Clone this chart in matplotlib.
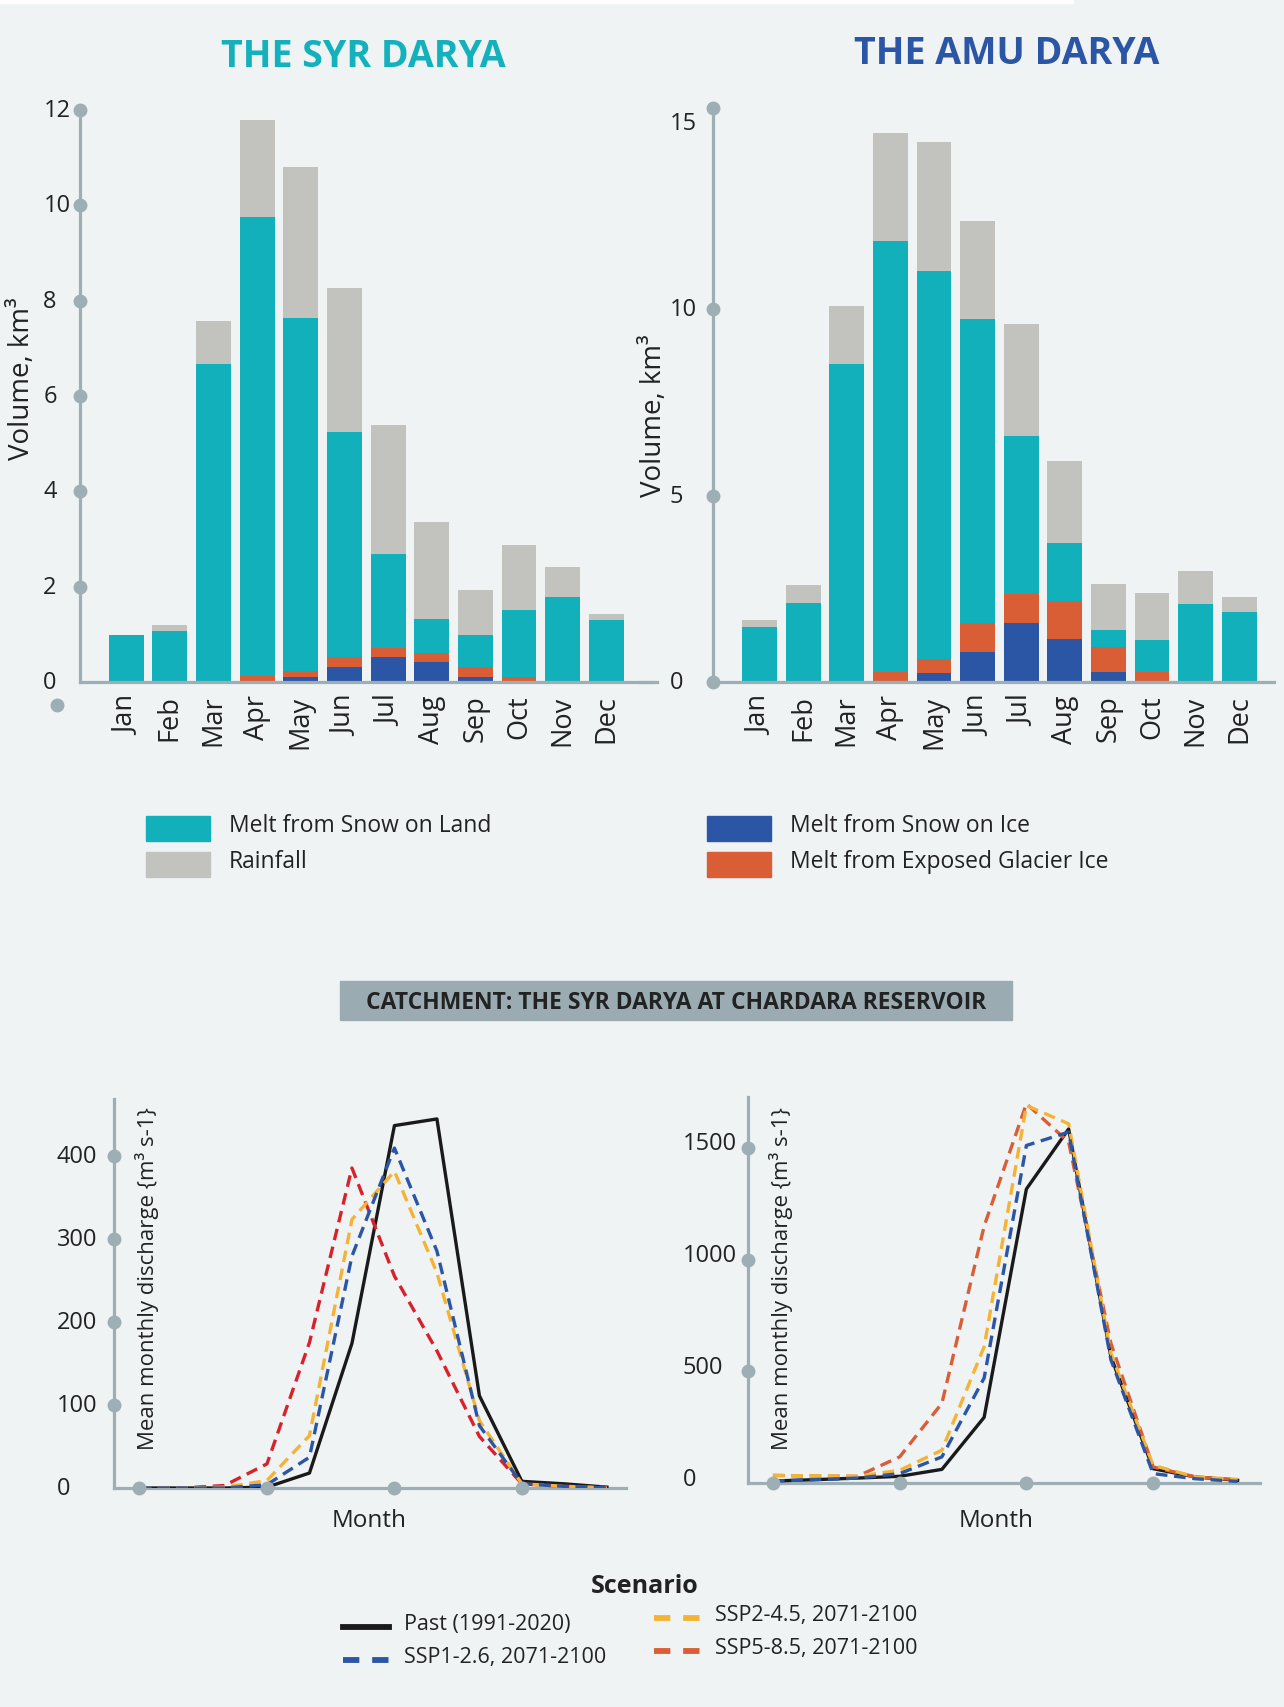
import numpy as np
import matplotlib
matplotlib.use("Agg")
import matplotlib.pyplot as plt
from matplotlib.patches import Rectangle
from matplotlib.lines import Line2D

plt.rcParams['font.family'] = ['Open Sans', 'DejaVu Sans']

# ---- data -------------------------------------------------------------
months = ['Jan', 'Feb', 'Mar', 'Apr', 'May', 'Jun',
          'Jul', 'Aug', 'Sep', 'Oct', 'Nov', 'Dec']

# Syr Darya, km3 per component (stacked bottom -> top)
syr_snow_ice = [0, 0, 0, 0, 0.10, 0.31, 0.52, 0.41, 0.10, 0, 0, 0]
syr_glacier = [0, 0, 0, 0.13, 0.13, 0.21, 0.20, 0.20, 0.21, 0.10, 0, 0]
syr_snow_land = [0.99, 1.07, 6.68, 9.63, 7.40, 4.72, 1.97, 0.71, 0.68, 1.41, 1.78, 1.30]
syr_rain = [0, 0.13, 0.90, 2.04, 3.17, 3.02, 2.70, 2.03, 0.94, 1.37, 0.64, 0.13]

# Amu Darya
amu_snow_ice = [0, 0, 0, 0, 0.23, 0.80, 1.58, 1.15, 0.26, 0, 0, 0]
amu_glacier = [0, 0, 0, 0.26, 0.38, 0.77, 0.79, 1.03, 0.69, 0.26, 0, 0]
amu_snow_land = [1.48, 2.12, 8.52, 11.56, 10.42, 8.16, 4.23, 1.54, 0.45, 0.87, 2.10, 1.89]
amu_rain = [0.19, 0.47, 1.56, 2.90, 3.47, 2.65, 3.00, 2.20, 1.22, 1.26, 0.89, 0.38]

# discharge, m3/s, months 1..12
month_num = np.arange(1, 13)
left_past = [0, 0, 0, 1, 18, 174, 436, 444, 111, 8, 5, 1]
left_ssp126 = [0, 0, 0, 4, 37, 279, 409, 285, 75, 5, 2, 0]
left_ssp245 = [0, 0, 1, 9, 63, 323, 381, 259, 81, 5, 2, 0]
left_ssp585 = [0, 0, 3, 29, 175, 385, 255, 165, 62, 5, 2, 1]

right_past = [9, 15, 22, 30, 61, 294, 1316, 1585, 566, 64, 27, 12]
right_ssp126 = [9, 15, 22, 42, 117, 470, 1511, 1571, 552, 42, 19, 7]
right_ssp245 = [34, 32, 30, 57, 147, 610, 1690, 1608, 581, 79, 27, 16]
right_ssp585 = [34, 31, 30, 117, 357, 1150, 1698, 1526, 626, 72, 27, 15]

scen_labels = ['Past (1991-2020)', 'SSP1-2.6, 2071-2100',
               'SSP2-4.5, 2071-2100', 'SSP5-8.5, 2071-2100']

# ---- style ------------------------------------------------------------
BG = '#EFF3F4'
AX = '#9DAEB5'
TXT = '#222222'
TEAL = '#12B0BA'
GRAY = '#C2C2BF'
BLUE = '#2B56A6'
ORANGE = '#DA5E35'
RED = '#D8222B'
YELLOW = '#F5B335'
BLACK = '#1A1A1A'

W, H = 1284, 1708
fig = plt.figure(figsize=(W / 100, H / 100), dpi=100, facecolor=BG)


def fx(px):
    return px / W


def fy(py):
    return 1 - py / H


def axes_px(left, top, right, bottom):
    return fig.add_axes([fx(left), fy(bottom), (right - left) / W, (bottom - top) / H])


def style_axes(ax):
    ax.set_facecolor('none')
    for s in ['top', 'right']:
        ax.spines[s].set_visible(False)
    for s in ['left', 'bottom']:
        ax.spines[s].set_color(AX)
        ax.spines[s].set_linewidth(2.3)
    ax.tick_params(length=0)


def dots_y(ax, vals):
    ax.plot([0] * len(vals), vals, 'o', color=AX, ms=9, clip_on=False,
            transform=ax.get_yaxis_transform(), zorder=6)


def ylabels(ax, vals, texts, xoff, size, dy=0):
    ax.set_yticks([])
    for v, t in zip(vals, texts):
        ax.text(xoff, v + dy, t, transform=ax.get_yaxis_transform(), ha='left',
                va='center', fontsize=size, color=TXT)


# white strip at very top
fig.patches.append(Rectangle((0, fy(4)), fx(1073), 4 / H, transform=fig.transFigure,
                             color='white', zorder=0))

# ---- bar charts ---------------------------------------------------------
x = np.arange(12)


def stacked(ax, ice, glac, land, rain):
    ice, glac, land, rain = map(np.array, (ice, glac, land, rain))
    ax.bar(x, ice, width=0.8, color=BLUE, zorder=2)
    ax.bar(x, glac, width=0.8, bottom=ice, color=ORANGE, zorder=2)
    ax.bar(x, land, width=0.8, bottom=ice + glac, color=TEAL, zorder=2)
    ax.bar(x, rain, width=0.8, bottom=ice + glac + land, color=GRAY, zorder=2)
    ax.set_xticks(x)
    ax.set_xticklabels(months, rotation=90, fontsize=19.5, color=TXT)
    ax.tick_params(axis='x', pad=9)


ax1 = axes_px(79.5, 111, 653, 683)
style_axes(ax1)
stacked(ax1, syr_snow_ice, syr_glacier, syr_snow_land, syr_rain)
ax1.set_xlim(-1.07, 12.07)
ax1.set_ylim(0, 12)
dots_y(ax1, [2, 4, 6, 8, 10, 12])
ylabels(ax1, [0, 2, 4, 6, 8, 10, 12], ['0', '2', '4', '6', '8', '10', '12'], -0.063, 17)
fig.text(fx(22), fy(379), 'Volume, km³', rotation=90, ha='center', va='center',
         fontsize=20, color=TXT)
fig.text(fx(363), fy(57), 'THE SYR DARYA', ha='center', va='center', fontsize=27,
         fontweight='bold', color='#13B1BC')
# stray marker under the axis
fig.lines.append(Line2D([fx(57)], [fy(706)], marker='o', ms=9, color=AX,
                        transform=fig.transFigure))

ax2 = axes_px(713, 109, 1274, 683)
style_axes(ax2)
stacked(ax2, amu_snow_ice, amu_glacier, amu_snow_land, amu_rain)
ax2.set_xlim(-1.07, 11.8)
ax2.set_ylim(0, 15.4)
dots_y(ax2, [0, 5, 10, 15.4])
ylabels(ax2, [0, 5, 10, 15], ['0', '5', '10', '15'], -0.077, 17)
fig.text(fx(654), fy(416), 'Volume, km³', rotation=90, ha='center', va='center',
         fontsize=20, color=TXT)
fig.text(fx(1007), fy(54), 'THE AMU DARYA', ha='center', va='center', fontsize=27,
         fontweight='bold', color='#2B55A5')
fig.lines.append(Line2D([fx(640), fx(657)], [fy(683), fy(683)], lw=2.3, color=AX,
                        transform=fig.transFigure))

# ---- bar legend ---------------------------------------------------------
bar_leg = [(146, 817, TEAL, 'Melt from Snow on Land'),
           (146, 853, GRAY, 'Rainfall'),
           (707, 817, BLUE, 'Melt from Snow on Ice'),
           (707, 853, ORANGE, 'Melt from Exposed Glacier Ice')]
for lx, ly, c, t in bar_leg:
    fig.patches.append(Rectangle((fx(lx), fy(ly + 25)), 64 / W, 25 / H,
                                 transform=fig.transFigure, color=c))
    fig.text(fx(lx + 83), fy(ly + 9), t, ha='left', va='center', fontsize=16.5, color=TXT)

# ---- banner -------------------------------------------------------------
fig.patches.append(Rectangle((fx(340), fy(1021)), 672 / W, 39 / H,
                             transform=fig.transFigure, color='#9AACB2'))
fig.text(fx(676), fy(1003), 'CATCHMENT: THE SYR DARYA AT CHARDARA RESERVOIR',
         ha='center', va='center', fontsize=16.5, fontweight='bold', color=TXT)

# ---- line charts --------------------------------------------------------
LW = 2.4
DASH = (3.5, 2)


def lines(ax, past, s1, s2, s5, c5):
    ax.plot(month_num, past, color=BLACK, lw=LW, zorder=3)
    ax.plot(month_num, s5, color=c5, lw=LW, dashes=DASH, zorder=3)
    ax.plot(month_num, s2, color=YELLOW, lw=LW, dashes=DASH, zorder=3)
    ax.plot(month_num, s1, color=BLUE, lw=LW, dashes=DASH, zorder=3)
    ax.plot([1, 4, 7, 10], [0] * 4, 'o', color=AX, ms=9, clip_on=False, zorder=6)
    ax.set_xticks([])


ax3 = axes_px(114, 1100, 626, 1489)
style_axes(ax3)
ax3.set_xlim(0.40, 12.45)
ax3.set_ylim(0, 468)
lines(ax3, left_past, left_ssp126, left_ssp245, left_ssp585, RED)
dots_y(ax3, [100, 200, 300, 400])
ylabels(ax3, [0, 100, 200, 300, 400], ['0', '100', '200', '300', '400'], -0.112, 17)
fig.text(fx(147), fy(1279), 'Mean monthly discharge {m³ s-1}', rotation=90,
         ha='center', va='center', fontsize=16, color=TXT)
fig.text(fx(369), fy(1521), 'Month', ha='center', va='center', fontsize=17.5, color=TXT)

ax4 = axes_px(748, 1098, 1260, 1484)
style_axes(ax4)
ax4.set_xlim(0.41, 12.53)
ax4.set_ylim(0, 1728)
lines(ax4, right_past, right_ssp126, right_ssp245, right_ssp585, ORANGE)
dots_y(ax4, [500, 1000, 1500])
ylabels(ax4, [0, 500, 1000, 1500], ['0', '500', '1000', '1500'], -0.127, 17, dy=20)
fig.text(fx(781), fy(1279), 'Mean monthly discharge {m³ s-1}', rotation=90,
         ha='center', va='center', fontsize=16, color=TXT)
fig.text(fx(996), fy(1521), 'Month', ha='center', va='center', fontsize=17.5, color=TXT)

# ---- scenario legend ----------------------------------------------------
fig.text(fx(645), fy(1587), 'Scenario', ha='center', va='center', fontsize=18,
         fontweight='bold', color=TXT)
scen = [(343, 1628, BLACK, None, scen_labels[0]),
        (343, 1661, BLUE, (2.8, 2.2), scen_labels[1]),
        (654, 1619, YELLOW, (2.8, 2.2), scen_labels[2]),
        (654, 1652, ORANGE, (2.8, 2.2), scen_labels[3])]
for lx, ly, c, d, t in scen:
    ln = Line2D([fx(lx), fx(lx + 46)], [fy(ly), fy(ly)], lw=4.2, color=c,
                transform=fig.transFigure)
    if d is not None:
        ln.set_dashes(d)
    fig.lines.append(ln)
    fig.text(fx(lx + 61), fy(ly - 3), t, ha='left', va='center', fontsize=15.5, color=TXT)

fig.savefig('out.png', dpi=100, facecolor=BG)
